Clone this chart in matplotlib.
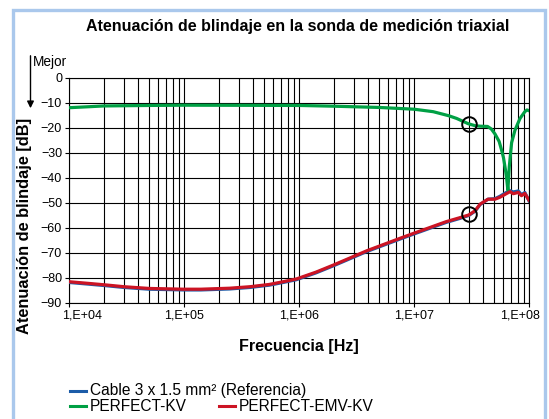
import matplotlib
matplotlib.use("Agg")
import matplotlib.pyplot as plt
from matplotlib.lines import Line2D
from matplotlib.patches import Rectangle, FancyArrowPatch
from matplotlib.ticker import FixedLocator, LogLocator, NullFormatter
from matplotlib.transforms import ScaledTranslation
import numpy as np

plt.rcParams['font.family'] = ['Liberation Sans', 'DejaVu Sans']

# ---------------- data ----------------
freq_ref = [1e4, 1.5e4, 2.1e4, 3e4, 5e4, 1e5, 1.4e5, 2.5e5, 3.75e5, 5.5e5, 7.3e5,
            9.5e5, 1.4e6, 2e6, 3.9e6, 7.5e6, 1e7, 1.9e7, 2.5e7, 3e7, 3.4e7,
            3.75e7, 4.4e7, 5.06e7, 5.6e7, 6.4e7, 6.84e7, 7.3e7, 8.07e7, 8.6e7,
            9.2e7, 1e8]
cable_ref = [-81.9, -82.6, -83.2, -83.9, -84.6, -84.9, -84.9, -84.5, -83.9, -83.0,
             -81.9, -80.8, -78.1, -75.2, -69.5, -64.6, -62.5, -57.9, -56.3, -55.1,
             -53.4, -50.8, -48.6, -48.4, -47.4, -45.8, -45.2, -45.7, -45.3, -46.8,
             -45.9, -49.3]
emv_kv = [-81.6, -82.3, -82.9, -83.6, -84.3, -84.6, -84.6, -84.2, -83.6, -82.7,
          -81.6, -80.5, -77.8, -74.9, -69.2, -64.3, -62.2, -57.6, -56.0, -54.9,
          -53.2, -50.6, -48.6, -48.6, -47.8, -46.3, -45.6, -46.4, -45.9, -47.2,
          -46.3, -49.0]

freq_kv = [1e4, 1.5e4, 2e4, 5e4, 1e5, 1e6, 2e6, 5e6, 1e7, 1.47e7, 2e7, 2.35e7,
           2.96e7, 3.4e7, 3.75e7, 4.36e7, 4.7e7, 5.06e7, 5.5e7, 5.78e7, 6.0e7,
           6.25e7, 6.4e7, 6.55e7, 6.74e7, 7.06e7, 7.55e7, 8.35e7, 9.2e7, 9.6e7, 1e8]
perfect_kv = [-12.0, -11.6, -11.3, -11.1, -11.0, -11.1, -11.4, -11.9, -12.6, -13.6,
              -15.2, -16.3, -18.4, -19.2, -19.4, -19.5, -20.5, -22.5, -25.5, -29.0,
              -32.0, -37.0, -40.5, -45.0, -35.6, -26.0, -21.0, -16.3, -13.6, -12.9,
              -13.2]

circle_f = [3.0e7, 3.0e7]
circle_db = [-18.7, -54.6]

yticks = [0, -10, -20, -30, -40, -50, -60, -70, -80, -90]
xticks = [1e4, 1e5, 1e6, 1e7, 1e8]
xticklabels = ["1,E+04", "1,E+05", "1,E+06", "1,E+07", "1,E+08"]

title = "Atenuación de blindaje en la sonda de medición triaxial"
ylabel = "Atenuación de blindaje [dB]"
xlabel = "Frecuencia [Hz]"
legend_labels = ["Cable 3 x 1.5 mm² (Referencia)", "PERFECT-KV", "PERFECT-EMV-KV"]

c_blue = "#1c5ca8"
c_green = "#00a044"
c_red = "#cc1424"

# ---------------- figure ----------------
W, H = 549, 419
fig = plt.figure(figsize=(W / 100, H / 100), dpi=100)
fig.patch.set_facecolor("white")

def fx(px):
    return px / W

def fy(py):
    return 1 - py / H

# light-blue frame
fig.patches.append(Rectangle((fx(12.5), fy(440)), fx(544.5) - fx(12.5), fy(10.5) - fy(440),
                             transform=fig.transFigure, fill=False,
                             edgecolor="#aac8ec", linewidth=2.4, zorder=0))

left, right, top, bottom = 69, 529, 77.7, 302.7
ax = fig.add_axes([fx(left), fy(bottom), fx(right) - fx(left), fy(top) - fy(bottom)])

ax.set_xscale("log")
ax.set_xlim(1e4, 1e8)
ax.set_ylim(-90, 0)

ax.xaxis.set_major_locator(FixedLocator(xticks))
ax.xaxis.set_minor_locator(LogLocator(base=10, subs=np.arange(2, 10)))
ax.xaxis.set_minor_formatter(NullFormatter())
ax.set_xticks(xticks)
ax.set_xticklabels(xticklabels)
ax.set_yticks(yticks)
ax.set_yticklabels([str(v).replace("-", "\u2212") for v in yticks])

ax.grid(True, which="major", axis="both", color="black", linewidth=0.8)
ax.grid(True, which="minor", axis="x", color="black", linewidth=0.8)
ax.set_axisbelow(True)
for s in ax.spines.values():
    s.set_color("black")
    s.set_linewidth(0.8)

ax.tick_params(axis="both", which="major", labelsize=9, length=3, width=0.8,
               pad=2, direction="out", colors="black")
ax.tick_params(axis="x", which="minor", length=0)
labs = ax.get_xticklabels()
labs[0].set_transform(labs[0].get_transform() + ScaledTranslation(13 / 100, 0, fig.dpi_scale_trans))
labs[-1].set_transform(labs[-1].get_transform() + ScaledTranslation(-9 / 100, 0, fig.dpi_scale_trans))

lw = 2.3
ax.plot(freq_ref, cable_ref, color=c_blue, lw=lw, solid_joinstyle="round", zorder=3)
ax.plot(freq_kv, perfect_kv, color=c_green, lw=lw, solid_joinstyle="round", zorder=4)
ax.plot(freq_ref, emv_kv, color=c_red, lw=lw, solid_joinstyle="round", zorder=5)
ax.plot(circle_f, circle_db, linestyle="none", marker="o", markersize=10.5,
        markerfacecolor="none", markeredgecolor="black", markeredgewidth=1.4, zorder=6)

# texts
fig.text(fx(298), fy(27), title, ha="center", va="center", fontsize=11.5, fontweight="bold")
fig.text(fx(25), fy(226), ylabel, ha="center", va="center", rotation=90,
         fontsize=11.8, fontweight="bold")
fig.text(fx(299), fy(346), xlabel, ha="center", va="center", fontsize=11.5, fontweight="bold")
fig.text(fx(33), fy(62), "Mejor", ha="left", va="center", fontsize=9.8)
fig.patches.append(FancyArrowPatch(
    (fx(30.5), fy(53)), (fx(30.5), fy(111)), transform=fig.transFigure,
    arrowstyle="-|>,head_length=4,head_width=2", mutation_scale=1, color="black", lw=1.0))

# legend (manual)
def leg_item(x0, y0, color, text):
    fig.lines.append(Line2D([fx(x0), fx(x0 + 16)], [fy(y0), fy(y0)], transform=fig.transFigure,
                            color=color, lw=2.2))
    fig.text(fx(x0 + 20), fy(y0), text, ha="left", va="center", fontsize=11.2)

leg_item(70, 390.5, c_blue, legend_labels[0])
leg_item(70, 406, c_green, legend_labels[1])
leg_item(219, 406, c_red, legend_labels[2])

fig.savefig("out.png", dpi=100)
